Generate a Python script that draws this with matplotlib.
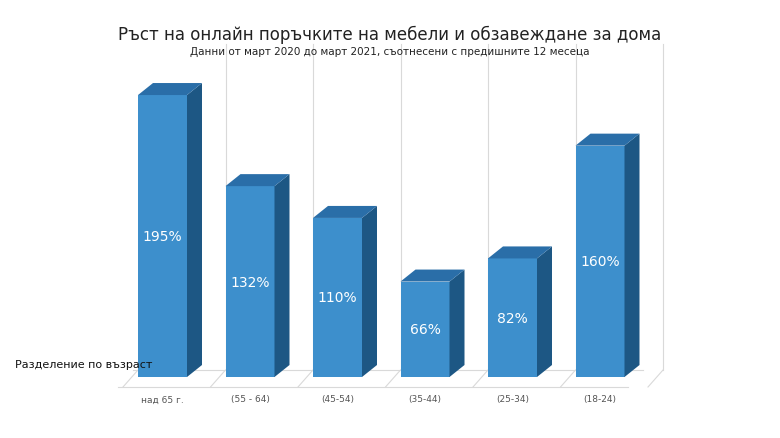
import matplotlib
matplotlib.use("Agg")
import matplotlib.pyplot as plt
from matplotlib.patches import Polygon

categories = ["над 65 г.", "(55 - 64)", "(45-54)", "(35-44)", "(25-34)", "(18-24)"]
values = [195, 132, 110, 66, 82, 160]
labels = ["195%", "132%", "110%", "66%", "82%", "160%"]

fig = plt.figure(figsize=(7.8, 4.39), dpi=100)
ax = fig.add_axes([0, 0, 1, 1])
ax.set_xlim(0, 780); ax.set_ylim(439, 0); ax.axis("off")

base = 378; scale = 1.446; w = 49; dx = 15; dy = 12
x0 = 138; step = 87.5
grid = "#d9d9d9"
# back wall verticals and floor
for i in range(7):
    xb = x0 - 20 + i * step + dx
    if 0 < i < 7:
        ax.plot([xb + 5, xb + 5], [45, base - dy + 5], color=grid, lw=0.8, zorder=0)
    ax.plot([xb - 10, xb + 5], [base + 10, base - dy + 5], color=grid, lw=0.8, zorder=0)
ax.plot([118, 628], [base + 10, base + 10], color=grid, lw=0.8, zorder=0)
ax.plot([133, 643], [base - 7, base - 7], color=grid, lw=0.8, zorder=0)

for i, (v, lab, cat) in enumerate(zip(values, labels, categories)):
    xl = x0 + i * step
    top = base - v * scale
    ax.add_patch(Polygon([(xl, base), (xl + w, base), (xl + w, top), (xl, top)], closed=True, fc="#3d8fcc", ec="none", zorder=2))
    ax.add_patch(Polygon([(xl + w, base), (xl + w + dx, base - dy), (xl + w + dx, top - dy), (xl + w, top)], closed=True, fc="#1d5784", ec="none", zorder=2))
    ax.add_patch(Polygon([(xl, top), (xl + w, top), (xl + w + dx, top - dy), (xl + dx, top - dy)], closed=True, fc="#2a6ea8", ec="none", zorder=2))
    ax.text(xl + w / 2, (base + top) / 2, lab, color="white", ha="center", va="center", fontsize=10, zorder=3)
    ax.text(xl + w / 2, 400, cat, color="#555555", ha="center", va="center", fontsize=6.5)

ax.text(390, 35, "Ръст на онлайн поръчките на мебели и обзавеждане за дома", ha="center", va="center", fontsize=12, color="#222222")
ax.text(390, 52, "Данни от март 2020 до март 2021, съотнесени с предишните 12 месеца", ha="center", va="center", fontsize=7.5, color="#222222")
ax.text(15, 365, "Разделение по възраст", ha="left", va="center", fontsize=8, color="#111111")
fig.savefig("out.png", dpi=100)
